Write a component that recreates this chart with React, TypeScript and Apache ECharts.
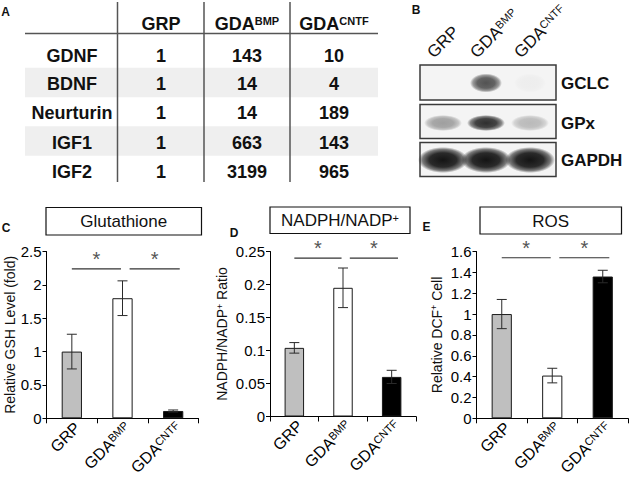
import React, { useEffect, useRef } from 'react';
import * as echarts from 'echarts';

const FONT = '"Liberation Sans", Arial, Helvetica, sans-serif';

// ---------- Panel A: fold-change table ----------
const tableColumns = ['GRP', 'GDA^BMP', 'GDA^CNTF'];
const tableGenes = ['GDNF', 'BDNF', 'Neurturin', 'IGF1', 'IGF2'];
const tableGRP = [1, 1, 1, 1, 1];
const tableBMP = [143, 14, 14, 663, 3199];
const tableCNTF = [10, 4, 189, 143, 965];

// ---------- Panel B: western blot ----------
const blotLanes = ['GRP', 'GDA^BMP', 'GDA^CNTF'];
const blotProteins = ['GCLC', 'GPx', 'GAPDH'];
const gclcBand = [0, 0.72, 0.03];
const gpxBand = [0.38, 0.88, 0.26];
const gapdhBand = [1, 1, 1];

// ---------- Panels C-E ----------
const groups = ['GRP', 'GDA^BMP', 'GDA^CNTF'];
const barColors = ['#bfbfbf', '#ffffff', '#000000'];

const gshMean = [1.0, 1.8, 0.11];
const gshErr = [0.26, 0.26, 0.015];
const gshTicks = [0, 0.5, 1, 1.5, 2, 2.5];

const nadphMean = [0.104, 0.195, 0.06];
const nadphErr = [0.008, 0.03, 0.01];
const nadphTicks = [0, 0.05, 0.1, 0.15, 0.2, 0.25];

const rosMean = [1.0, 0.41, 1.36];
const rosErr = [0.14, 0.07, 0.06];
const rosTicks = [0, 0.2, 0.4, 0.6, 0.8, 1, 1.2, 1.4, 1.6];

// significance brackets (start/end in category units) and their heights
const sigPairs = [[0, 0.97], [1.14, 2.13]];
const gshSig = 2.24;
const nadphSig = 0.24;
const rosSig = 1.54;

const supRich = (s: string, b = 'b', sp = 's') => {
  const [base, sup] = s.split('^');
  return sup ? `{${b}|${base}}{${sp}|${sup}}` : `{${b}|${base}}`;
};

const panels = [
  {
    letter: 'C', letterPos: [6, 228],
    title: '{t|Glutathione}',
    box: { x: 46, y: 207.5, w: 155.5, h: 27.5 },
    mean: gshMean, err: gshErr, ticks: gshTicks, sig: gshSig,
    yName: '{n|Relative GSH Level (fold)}', nameGap: 30,
    grid: { left: 46.5, top: 251.5, width: 152, height: 168.5 },
  },
  {
    letter: 'D', letterPos: [234, 233],
    title: '{t|NADPH/NADP}{ts|+}',
    box: { x: 270, y: 207, w: 140, h: 26.5 },
    mean: nadphMean, err: nadphErr, ticks: nadphTicks, sig: nadphSig,
    yName: '{n|NADPH/NADP}{ns|+}{n| Ratio}', nameGap: 41,
    grid: { left: 270, top: 251.5, width: 146, height: 165 },
  },
  {
    letter: 'E', letterPos: [426.5, 227],
    title: '{t|ROS}',
    box: { x: 480, y: 207, w: 141.5, h: 27 },
    mean: rosMean, err: rosErr, ticks: rosTicks, sig: rosSig,
    yName: '{n|Relative DCF}{ns|+}{n| Cell}', nameGap: 33,
    grid: { left: 476.5, top: 251.5, width: 151.5, height: 170 },
  },
];

function buildTable(): any[] {
  const left = 25, right = 378;
  const colCenters = [72, 161, 247, 334];
  const colLines = [117.5, 204, 290];
  const rowY = [55.5, 84, 113, 142.5, 172];
  const rowH = 29.5;
  const els: any[] = [];
  rowY.forEach((y, i) => {
    if (i % 2 === 1) {
      els.push({ type: 'rect', shape: { x: left, y: y - rowH / 2 - 1.5, width: right - left, height: rowH }, style: { fill: '#efefef' }, z: 0 });
    }
  });
  els.push({ type: 'line', shape: { x1: left, y1: 33.5, x2: right, y2: 33.5 }, style: { stroke: '#555', lineWidth: 1.5 }, z: 1 });
  colLines.forEach((x) => {
    els.push({ type: 'line', shape: { x1: x, y1: 2, x2: x, y2: 182 }, style: { stroke: '#555', lineWidth: 1.5 }, z: 1 });
  });
  const rich = {
    b: { fontSize: 18, fontWeight: 'bold', fontFamily: FONT, fill: '#111' },
    s: { fontSize: 11, fontWeight: 'bold', fontFamily: FONT, fill: '#111', verticalAlign: 'top' },
  };
  tableColumns.forEach((c, k) => {
    els.push({ type: 'text', x: colCenters[k + 1], y: 24, z: 2, style: { text: supRich(c), rich, align: 'center', verticalAlign: 'middle' } });
  });
  tableGenes.forEach((g, i) => {
    const vals = [g, tableGRP[i], tableBMP[i], tableCNTF[i]];
    vals.forEach((v, k) => {
      els.push({ type: 'text', x: colCenters[k], y: rowY[i], z: 2, style: { text: `{b|${v}}`, rich, align: 'center', verticalAlign: 'middle' } });
    });
  });
  return els;
}

function buildBlot(): any[] {
  const x = 420, w = 136;
  const rowTop = [65, 104.5, 142.5];
  const rowH = [35, 34, 34];
  const laneX = [443, 486, 530];
  const bandR = [[16, 9.5], [19, 8], [25, 13]];
  const bandDy = [0.5, 1.5, 0.5];
  const intens = [gclcBand, gpxBand, gapdhBand];
  const els: any[] = [];
  blotProteins.forEach((p, r) => {
    els.push({ type: 'rect', shape: { x, y: rowTop[r], width: w, height: rowH[r] }, style: { fill: '#f4f4f4', stroke: '#3a3a3a', lineWidth: 1.5 }, z: 1 });
    const cy = rowTop[r] + rowH[r] / 2 + bandDy[r];
    intens[r].forEach((a, l) => {
      if (a <= 0) return;
      const c = (al: number) => `rgba(20,20,20,${al})`;
      els.push({
        type: 'ellipse',
        shape: { cx: laneX[l], cy, rx: bandR[r][0], ry: bandR[r][1] },
        style: {
          fill: new echarts.graphic.RadialGradient(0.5, 0.5, 0.5, [
            { offset: 0, color: c(a) },
            { offset: 0.55, color: c(a * 0.9) },
            { offset: 0.82, color: c(a * 0.55) },
            { offset: 1, color: c(0) },
          ]),
        },
        z: 2,
      });
    });
    els.push({ type: 'text', x: 561, y: cy, z: 2, style: { text: p, font: `bold 17px ${FONT}`, fill: '#111', align: 'left', verticalAlign: 'middle' } });
  });
  const rich = {
    b: { fontSize: 17, fontFamily: FONT, fill: '#111' },
    s: { fontSize: 11, fontFamily: FONT, fill: '#111', verticalAlign: 'top' },
  };
  blotLanes.forEach((l, i) => {
    els.push({ type: 'text', x: laneX[i] - 7, y: 61, rotation: Math.PI / 4, z: 2, style: { text: supRich(l), rich, align: 'left', verticalAlign: 'bottom' } });
  });
  return els;
}

function buildPanelDecor(): any[] {
  const els: any[] = [];
  const letterStyle = { font: `bold 12px ${FONT}`, fill: '#111', align: 'center', verticalAlign: 'middle' };
  els.push({ type: 'text', x: 5.5, y: 11.5, style: { text: 'A', ...letterStyle } });
  els.push({ type: 'text', x: 416, y: 9.5, style: { text: 'B', ...letterStyle } });
  const rich = {
    t: { fontSize: 17, fontFamily: FONT, fill: '#111' },
    ts: { fontSize: 11, fontFamily: FONT, fill: '#111', verticalAlign: 'top' },
  };
  panels.forEach((p) => {
    els.push({ type: 'text', x: p.letterPos[0], y: p.letterPos[1], style: { text: p.letter, ...letterStyle } });
    els.push({ type: 'rect', shape: { x: p.box.x, y: p.box.y, width: p.box.w, height: p.box.h }, style: { fill: '#fff', stroke: '#111', lineWidth: 1.2 } });
    els.push({ type: 'text', x: p.box.x + p.box.w / 2, y: p.box.y + p.box.h / 2 + 0.5, style: { text: p.title, rich, align: 'center', verticalAlign: 'middle' } });
  });
  return els;
}

function buildOption(): any {
  const grids: any[] = [], xAxes: any[] = [], yAxes: any[] = [], series: any[] = [];
  panels.forEach((p, i) => {
    grids.push({ ...p.grid });
    xAxes.push({
      gridIndex: i, type: 'category', data: groups,
      axisLine: { show: true, lineStyle: { color: '#000', width: 1 } },
      axisTick: { show: true, interval: 0, length: 5, lineStyle: { color: '#000' } },
      axisLabel: {
        interval: 0, rotate: 45, margin: 1, align: 'right', verticalAlign: 'top',
        formatter: (v: string) => supRich(v),
        rich: {
          b: { fontSize: 16, fontFamily: FONT, color: '#000' },
          s: { fontSize: 11, fontFamily: FONT, color: '#000', verticalAlign: 'top' },
        },
      },
      splitLine: { show: false },
    });
    const t = p.ticks;
    yAxes.push({
      gridIndex: i, type: 'value', min: t[0], max: t[t.length - 1], interval: t[1] - t[0],
      axisLine: { show: true, lineStyle: { color: '#000', width: 1 } },
      axisTick: { show: true, length: 4, lineStyle: { color: '#000' } },
      axisLabel: { fontSize: 15, fontFamily: FONT, color: '#000', margin: 5 },
      splitLine: { show: false },
      name: p.yName, nameLocation: 'middle', nameGap: p.nameGap,
      nameTextStyle: {
        rich: {
          n: { fontSize: 14, fontFamily: FONT, color: '#111' },
          ns: { fontSize: 9, fontFamily: FONT, color: '#111', verticalAlign: 'top' },
        },
      },
    });
    series.push({
      type: 'bar', xAxisIndex: i, yAxisIndex: i, barWidth: '40%',
      data: p.mean.map((v, j) => ({ value: v, itemStyle: { color: barColors[j] } })),
      itemStyle: { borderColor: '#1a1a1a', borderWidth: 1 },
      z: 2,
    });
    series.push({
      type: 'custom', xAxisIndex: i, yAxisIndex: i, z: 3,
      data: p.mean.map((v, j) => [j, v - p.err[j], v + p.err[j]]),
      encode: { x: 0, y: [1, 2] },
      renderItem: (params: any, api: any) => {
        const lo = api.coord([api.value(0), api.value(1)]);
        const hi = api.coord([api.value(0), api.value(2)]);
        const hw = 5;
        const st = { stroke: '#2a2a2a', lineWidth: 1 };
        return {
          type: 'group',
          children: [
            { type: 'line', shape: { x1: lo[0], y1: lo[1], x2: hi[0], y2: hi[1] }, style: st },
            { type: 'line', shape: { x1: hi[0] - hw, y1: hi[1], x2: hi[0] + hw, y2: hi[1] }, style: st },
            { type: 'line', shape: { x1: lo[0] - hw, y1: lo[1], x2: lo[0] + hw, y2: lo[1] }, style: st },
          ],
        };
      },
    });
    series.push({
      type: 'custom', xAxisIndex: i, yAxisIndex: i, z: 3,
      data: sigPairs.map((sp) => [0, p.sig, sp[0], sp[1]]),
      encode: { x: 0, y: 1 },
      renderItem: (params: any, api: any) => {
        const y = api.value(1);
        const c0 = api.coord([0, y]);
        const c1 = api.coord([1, y]);
        const step = c1[0] - c0[0];
        const xa = c0[0] + api.value(2) * step;
        const xb = c0[0] + api.value(3) * step;
        return {
          type: 'group',
          children: [
            { type: 'line', shape: { x1: xa, y1: c0[1], x2: xb, y2: c0[1] }, style: { stroke: '#333', lineWidth: 1.2 } },
            { type: 'text', x: (xa + xb) / 2, y: c0[1] - 10, style: { text: '*', font: `20px ${FONT}`, fill: '#555', align: 'center', verticalAlign: 'middle' } },
          ],
        };
      },
    });
  });
  return {
    animation: false,
    backgroundColor: '#ffffff',
    grid: grids,
    xAxis: xAxes,
    yAxis: yAxes,
    series,
    graphic: { elements: [...buildTable(), ...buildBlot(), ...buildPanelDecor()] },
  };
}

export default function App() {
  const ref = useRef<HTMLDivElement>(null);
  useEffect(() => {
    if (!ref.current) return;
    const chart = echarts.init(ref.current, null, { renderer: 'svg' });
    chart.setOption(buildOption());
    return () => chart.dispose();
  }, []);
  return <div ref={ref} style={{ position: 'fixed', left: 0, top: 0, width: 631, height: 478, background: '#fff' }} />;
}
